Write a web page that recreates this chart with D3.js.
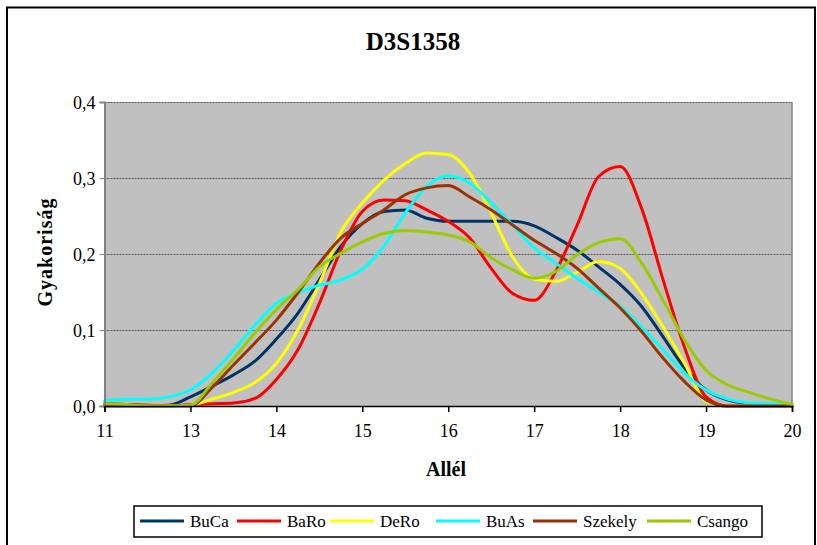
<html>
<head>
    <title>D3S1358</title>
    <style>
        body{ margin:0; background:#fff; }
        text{ font-family:"Liberation Serif","Times New Roman",serif; fill:#000; }
        .grid line{ stroke:#555; stroke-width:1; stroke-dasharray:2,1; }
        .series{ fill:none; stroke-width:3; stroke-linejoin:round; stroke-linecap:round; }
        .tick text{ font-size:18px; }
    </style>
</head>
<body>
<script src="https://cdn.jsdelivr.net/npm/d3@7"></script>
<script>
var width=817, height=545;

// category labels on the x axis (equally spaced, 12 is missing in the original)
var alleles = ["11","13","14","15","16","17","18","19","20"];
var yTicks = [0, 0.1, 0.2, 0.3, 0.4];

// values, every quarter of a category step
var BuCa    = [0.002,0.001,0.000,0.001,0.012,0.026,0.041,0.059,0.088,0.122,0.166,0.210,0.240,0.256,0.258,0.247,0.243,0.243,0.243,0.243,0.237,0.222,0.205,0.183,0.160,0.131,0.091,0.050,0.021,0.008,0.003,0.001,0.002];
var BaRo    = [0.003,0.002,0.001,0.000,0.002,0.003,0.004,0.010,0.035,0.074,0.135,0.205,0.256,0.271,0.270,0.258,0.243,0.221,0.181,0.148,0.139,0.177,0.238,0.302,0.315,0.260,0.166,0.077,0.012,0.000,0.000,0.000,0.000];
var DeRo    = [0.000,0.000,0.000,0.000,0.001,0.009,0.018,0.031,0.056,0.100,0.161,0.229,0.267,0.297,0.319,0.333,0.331,0.306,0.254,0.196,0.167,0.164,0.176,0.190,0.181,0.148,0.104,0.056,0.006,0.000,0.000,0.000,0.000];
var BuAs    = [0.007,0.009,0.009,0.012,0.021,0.043,0.073,0.106,0.135,0.149,0.159,0.166,0.180,0.210,0.254,0.289,0.303,0.293,0.267,0.238,0.208,0.188,0.168,0.150,0.131,0.104,0.074,0.043,0.021,0.009,0.004,0.003,0.002];
var Szekely = [0.000,0.000,0.000,0.000,0.000,0.024,0.054,0.083,0.113,0.149,0.188,0.221,0.240,0.258,0.278,0.287,0.290,0.275,0.258,0.238,0.218,0.201,0.181,0.155,0.129,0.098,0.063,0.032,0.008,0.000,0.000,0.000,0.000];
var Csango  = [0.003,0.002,0.000,0.000,0.001,0.030,0.062,0.096,0.127,0.153,0.183,0.201,0.216,0.227,0.231,0.229,0.225,0.216,0.195,0.179,0.168,0.177,0.199,0.215,0.220,0.188,0.139,0.087,0.047,0.028,0.018,0.009,0.002];

var seriesNames  = ["BuCa","BaRo","DeRo","BuAs","Szekely","Csango"];
var seriesColors = ["#003366","#ff0000","#ffff00","#00ffff","#993300","#99cc00"];
var seriesData   = [BuCa, BaRo, DeRo, BuAs, Szekely, Csango];

var plot = {left:104.5, right:792, top:102, bottom:406};

var svgContainer = d3.select("body").append("svg")
                                    .attr("width", width)
                                    .attr("height", height);

// outer chart frame
svgContainer.append("rect")
            .attr("x", 7).attr("y", 7.5)
            .attr("width", 808).attr("height", 545)
            .attr("fill", "#fff")
            .attr("stroke", "#000")
            .attr("stroke-width", 2);

var x = d3.scaleLinear().domain([0, alleles.length-1]).range([plot.left, plot.right]);
var y = d3.scaleLinear().domain([0, 0.4]).range([plot.bottom, plot.top]);

// gray plot area
svgContainer.append("rect")
            .attr("x", plot.left).attr("y", plot.top)
            .attr("width", plot.right-plot.left).attr("height", plot.bottom-plot.top)
            .attr("fill", "#c0c0c0");

var grid = svgContainer.append("g").attr("class","grid");
grid.selectAll("line").data(yTicks.slice(1))
    .enter().append("line")
    .attr("x1", plot.left).attr("x2", plot.right)
    .attr("y1", function(d){ return Math.round(y(d))+0.5; })
    .attr("y2", function(d){ return Math.round(y(d))+0.5; });

// right border of plot area
svgContainer.append("line")
            .attr("x1", plot.right).attr("x2", plot.right)
            .attr("y1", plot.top).attr("y2", plot.bottom)
            .attr("stroke", "#808080").attr("stroke-width", 1.5);

// lines
var line = d3.line()
             .x(function(d,i){ return x(i*0.25); })
             .y(function(d){ return y(d); })
             .curve(d3.curveMonotoneX);

for(var i=0;i<seriesData.length;i++){
    svgContainer.append("path")
                .attr("class","series")
                .attr("d", line(seriesData[i]))
                .attr("stroke", seriesColors[i]);
}

// axes
var yAxis = d3.axisLeft(y).tickValues(yTicks).tickSize(5).tickPadding(4)
              .tickFormat(function(d){ return d3.format(".1f")(d).replace(".", ","); });
var gy = svgContainer.append("g")
            .attr("transform", "translate(" + plot.left + ",0)")
            .call(yAxis);
gy.select(".domain").attr("stroke", "#808080").attr("stroke-width", 2);
gy.selectAll(".tick line").attr("stroke", "#808080");
gy.selectAll(".tick text").attr("dy", "0.35em");

var xAxis = d3.axisBottom(x).tickValues(d3.range(alleles.length)).tickSize(6).tickPadding(12)
              .tickFormat(function(d){ return alleles[d]; });
var gx = svgContainer.append("g")
            .attr("transform", "translate(0," + plot.bottom + ")")
            .call(xAxis);
gx.select(".domain").attr("stroke", "#000").attr("stroke-width", 1.5);
gx.selectAll(".tick line").attr("stroke", "#000").attr("stroke-width", 1.5);

// titles
svgContainer.append("text")
            .attr("x", 413).attr("y", 50)
            .attr("text-anchor", "middle")
            .style("font-size", "25px").style("font-weight", "bold")
            .text("D3S1358");

svgContainer.append("text")
            .attr("x", 446).attr("y", 476)
            .attr("text-anchor", "middle")
            .style("font-size", "20px").style("font-weight", "bold")
            .text("Allél");

svgContainer.append("text")
            .attr("transform", "translate(52,252) rotate(-90)")
            .attr("text-anchor", "middle")
            .style("font-size", "20px").style("font-weight", "bold")
            .style("letter-spacing", "1px")
            .text("Gyakoriság");

// legend
var legend = svgContainer.append("g");
legend.append("rect")
      .attr("x", 134).attr("y", 506)
      .attr("width", 628).attr("height", 31)
      .attr("fill", "#fff").attr("stroke", "#000").attr("stroke-width", 1.5);

var legendX = [140, 237, 330, 436, 533, 647];
for(i=0;i<seriesNames.length;i++){
    legend.append("line")
          .attr("x1", legendX[i]).attr("x2", legendX[i]+44)
          .attr("y1", 521).attr("y2", 521)
          .attr("stroke", seriesColors[i]).attr("stroke-width", 3);
    legend.append("text")
          .attr("x", legendX[i]+50).attr("y", 527)
          .style("font-size", "17px")
          .text(seriesNames[i]);
}
</script>
</body>
</html>
